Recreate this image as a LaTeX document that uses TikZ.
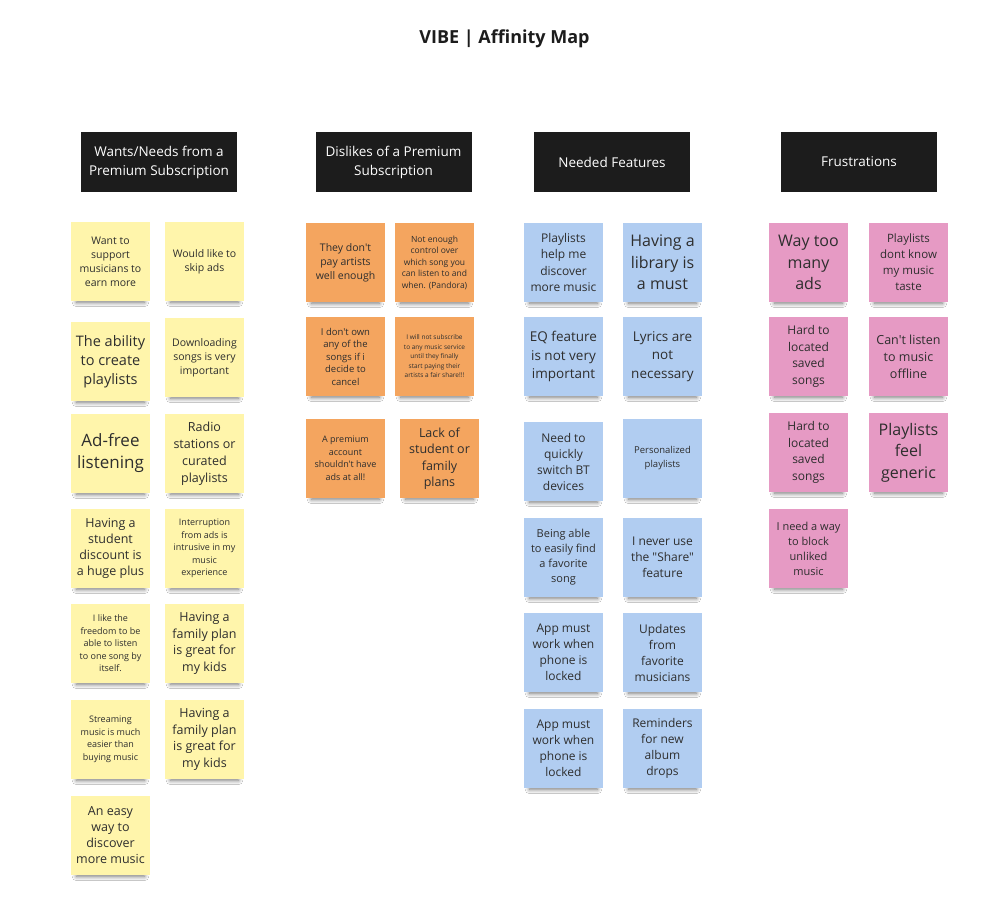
\documentclass[tikz,border=0pt]{standalone}
\usepackage{fontspec}
\newfontfamily\osq{Open Sans}
\usetikzlibrary{shadows.blur}
\definecolor{yel}{HTML}{FFF5AB}
\definecolor{ora}{HTML}{F4A55F}
\definecolor{blu}{HTML}{B1CDF1}
\definecolor{pnk}{HTML}{E69AC4}
\definecolor{hdr}{HTML}{1C1C1C}
\definecolor{ink}{HTML}{2E2E2E}
\tikzset{
  fs/.style 2 args={font=\osq\fontsize{#1}{#2}\selectfont},
  sticky/.style={fill=#1, minimum width=79pt, minimum height=79pt, inner sep=1pt,
    align=center, text=ink,
    blur shadow={shadow xshift=0pt, shadow yshift=-8pt, shadow scale=0.86,
      shadow opacity=55, shadow blur radius=5pt, shadow blur steps=8}},
  header/.style={fill=hdr, text=white, minimum width=156pt, minimum height=60pt,
    align=center, fs={13.5}{19}},
  titlestyle/.style={text=hdr, font=\osq\bfseries\fontsize{18}{22}\selectfont}
}
\begin{document}
\begin{tikzpicture}[x=1pt,y=-1pt]
\useasboundingbox (0,0) rectangle (1002,904);
\fill[white] (0,0) rectangle (1002,904);

\node[titlestyle] (title) at (504.5,39) {VIBE | Affinity Map};

\node[header] (h1) at (159,162) {Wants/Needs from a\\Premium Subscription};
\node[header] (h2) at (393.5,162) {Dislikes of a Premium\\Subscription};
\node[header] (h3) at (612,162) {Needed Features};
\node[header] (h4) at (859,162) {Frustrations};

% Column 1 (yellow)
\node[sticky=yel, fs={10.5}{14}] (a1) at (110.5,261.5) {Want to\\support\\musicians to\\earn more};
\node[sticky=yel, fs={10.5}{14}] (a2) at (204.5,261.5) {Would like to\\skip ads};
\node[sticky=yel, fs={14.5}{19}] (a3) at (110.5,361.5) {The ability\\to create\\playlists};
\node[sticky=yel, fs={10.5}{14}] (a4) at (204.5,357.5) {Downloading\\songs is very\\important};
\node[sticky=yel, fs={17}{22}] (a5) at (110.5,453.5) {Ad-free\\listening};
\node[sticky=yel, fs={12.5}{17}] (a6) at (204.5,453.5) {Radio\\stations or\\curated\\playlists};
\node[sticky=yel, fs={12.5}{16}] (a7) at (110.5,548.5) {Having a\\student\\discount is\\a huge plus};
\node[sticky=yel, fs={9}{12.5}] (a8) at (204.5,548.5) {Interruption\\from ads is\\intrusive in my\\music\\experience};
\node[sticky=yel, fs={9}{12.5}] (a9) at (110.5,643.5) {I like the\\freedom to be\\able to listen\\to one song by\\itself.};
\node[sticky=yel, fs={12.5}{16.5}] (a10) at (204.5,643.5) {Having a\\family plan\\is great for\\my kids};
\node[sticky=yel, fs={9}{12.5}] (a11) at (110.5,739.5) {Streaming\\music is much\\easier than\\buying music};
\node[sticky=yel, fs={12.5}{16.5}] (a12) at (204.5,739.5) {Having a\\family plan\\is great for\\my kids};
\node[sticky=yel, fs={12.5}{16}] (a13) at (110.5,835.5) {An easy\\way to\\discover\\more music};

% Column 2 (orange)
\node[sticky=ora, fs={10.5}{14}] (b1) at (345.5,262.5) {They don't\\pay artists\\well enough};
\node[sticky=ora, fs={8.5}{11.5}] (b2) at (434.5,262.5) {Not enough\\control over\\which song you\\can listen to and\\when. (Pandora)};
\node[sticky=ora, fs={9.5}{12.5}] (b3) at (345.5,356.5) {I don't own\\any of the\\songs if i\\decide to\\cancel};
\node[sticky=ora, fs={6.5}{9.5}] (b4) at (434.5,356.5) {I will not subscribe\\to any music service\\until they finally\\start paying their\\artists a fair share!!!};
\node[sticky=ora, fs={9}{12.5}] (b5) at (345.5,458.5) {A premium\\account\\shouldn't have\\ads at all!};
\node[sticky=ora, fs={12.5}{16.5}] (b6) at (439.5,458.5) {Lack of\\student or\\family\\plans};

% Column 3 (blue)
\node[sticky=blu, fs={12}{16.5}] (c1) at (563.5,262.5) {Playlists\\help me\\discover\\more music};
\node[sticky=blu, fs={16}{21.5}] (c2) at (662.5,262.5) {Having a\\library is\\a must};
\node[sticky=blu, fs={13.5}{18.5}] (c3) at (563.5,356.5) {EQ feature\\is not very\\important};
\node[sticky=blu, fs={13.5}{18.5}] (c4) at (662.5,356.5) {Lyrics are\\not\\necessary};
\node[sticky=blu, fs={12}{16}] (c5) at (563.5,461.5) {Need to\\quickly\\switch BT\\devices};
\node[sticky=blu, fs={9.5}{14}] (c6) at (662.5,458.5) {Personalized\\playlists};
\node[sticky=blu, fs={11}{15}] (c7) at (563.5,557.5) {Being able\\to easily find\\a favorite\\song};
\node[sticky=blu, fs={12}{16}] (c8) at (662.5,557.5) {I never use\\the "Share"\\feature};
\node[sticky=blu, fs={12}{16}] (c9) at (563.5,652.5) {App must\\work when\\phone is\\locked};
\node[sticky=blu, fs={12}{16}] (c10) at (662.5,652.5) {Updates\\from\\favorite\\musicians};
\node[sticky=blu, fs={12}{16}] (c11) at (563.5,748.5) {App must\\work when\\phone is\\locked};
\node[sticky=blu, fs={12}{16}] (c12) at (662.5,748.5) {Reminders\\for new\\album\\drops};

% Column 4 (pink)
\node[sticky=pnk, fs={16}{21.5}] (d1) at (808.5,262.5) {Way too\\many\\ads};
\node[sticky=pnk, fs={11.5}{16}] (d2) at (908.5,262.5) {Playlists\\dont know\\my music\\taste};
\node[sticky=pnk, fs={12}{16.5}] (d3) at (808.5,356.5) {Hard to\\located\\saved\\songs};
\node[sticky=pnk, fs={12.5}{17}] (d4) at (908.5,356.5) {Can't listen\\to music\\offline};
\node[sticky=pnk, fs={12}{16.5}] (d5) at (808.5,452.5) {Hard to\\located\\saved\\songs};
\node[sticky=pnk, fs={16}{21.5}] (d6) at (908.5,452.5) {Playlists\\feel\\generic};
\node[sticky=pnk, fs={11}{15}] (d7) at (808.5,548.5) {I need a way\\to block\\unliked\\music};
\end{tikzpicture}
\end{document}
